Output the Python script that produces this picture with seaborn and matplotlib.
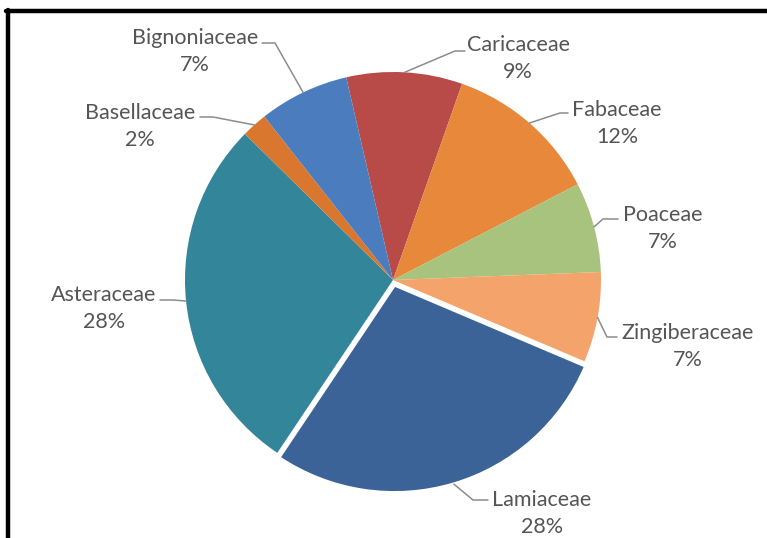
import numpy as np
import matplotlib
matplotlib.use("Agg")
import matplotlib.pyplot as plt
import seaborn as sns
from matplotlib.lines import Line2D

# Plant families, clockwise from the top
families = ["Caricaceae", "Fabaceae", "Poaceae", "Zingiberaceae",
            "Lamiaceae", "Asteraceae", "Basellaceae", "Bignoniaceae"]
shares = [9, 12, 7, 7, 28, 28, 2, 7]
colors = ["#B84A48", "#E8883A", "#A8C37E", "#F4A46B",
          "#3B6397", "#33859A", "#D8772D", "#4B7DBE"]
explode_px = [0, 0, 0, 0, 5, 0, 0, 0]

sns.set_theme(style="white")
plt.rcParams["font.family"] = ["Lato", "DejaVu Sans"]

W, H = 767, 538
fig = plt.figure(figsize=(W / 100, H / 100), dpi=100)

cx, cy, R = 393, 280, 208
start = 103

# pie drawn on a y-up axes in pixel units
pax = fig.add_axes([0, 0, 1, 1], zorder=0)
wedges, _ = pax.pie(shares, colors=colors, startangle=start, counterclock=False,
                    center=(cx, H - cy), radius=R, explode=explode_px,
                    wedgeprops=dict(edgecolor="none", linewidth=0),
                    frame=True)
pax.set_xlim(0, W)
pax.set_ylim(0, H)
pax.axis("off")
wedges[4].set_edgecolor("white")
wedges[4].set_linewidth(2.5)

# overlay axes (y down) for labels, leaders and the frame
ax = fig.add_axes([0, 0, 1, 1], zorder=1)
ax.set_xlim(0, W)
ax.set_ylim(H, 0)
ax.axis("off")
ax.patch.set_visible(False)

# label placement: name centre, knee of leader, end of leader
label_pos = {
    "Caricaceae":    ((518, 45),  (455, 51),  (465, 51)),
    "Fabaceae":      ((617, 110), (560, 113), (568, 113)),
    "Poaceae":       ((663, 215), (603, 219), (618, 219)),
    "Zingiberaceae": ((688, 333), (607, 337), (617, 337)),
    "Lamiaceae":     ((542, 500), (473, 500), (488, 500)),
    "Asteraceae":    ((104, 295), (173, 300), (160, 300)),
    "Basellaceae":   ((140, 113), (213, 117), (200, 117)),
    "Bignoniaceae":  ((195, 38),  (275, 43),  (262, 43)),
}

text_color = "#555555"
line_color = "#8C8C8C"
fs = 15.5

cum = start
for name, val, ex in zip(families, shares, explode_px):
    ang = cum - val * 3.6 / 2
    cum -= val * 3.6
    th = np.deg2rad(ang)
    arc_pt = (cx + (R + ex) * np.cos(th), cy - (R + ex) * np.sin(th))
    (tx, ty), knee, end = label_pos[name]
    ax.add_line(Line2D([arc_pt[0], knee[0], end[0]], [arc_pt[1], knee[1], end[1]],
                       color=line_color, lw=1.1))
    ax.text(tx, ty, name, ha="center", va="center", fontsize=fs, color=text_color)
    ax.text(tx, ty + 27, f"{val}%", ha="center", va="center", fontsize=fs,
            color=text_color)

# black frame on the top and left edges
ax.add_line(Line2D([6, W], [11, 11], color="black", lw=3.2))
ax.add_line(Line2D([8, 8], [9.5, H], color="black", lw=3.2))

fig.savefig("out.png", dpi=100)
